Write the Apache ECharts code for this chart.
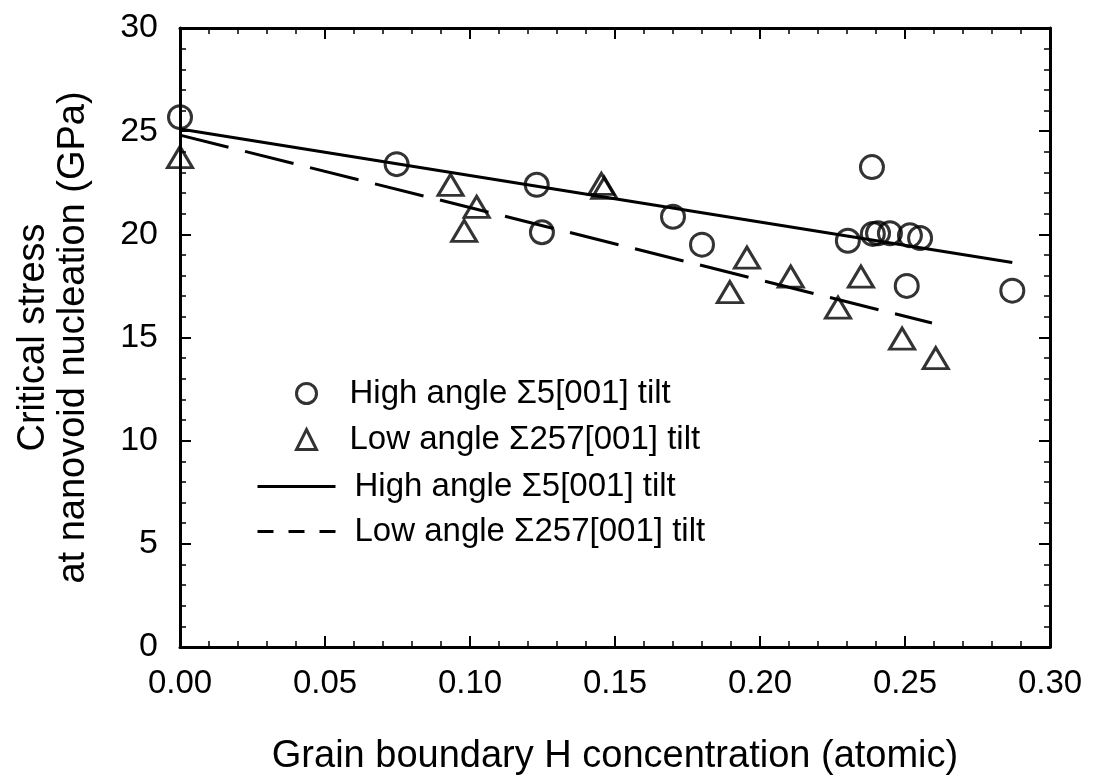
<!DOCTYPE html>
<html>
<head>
<meta charset="utf-8">
<script src="https://cdn.jsdelivr.net/npm/echarts@6/dist/echarts.min.js"></script>
<style>
html,body{margin:0;padding:0;background:#fff;}
#chart{width:1096px;height:781px;}
</style>
</head>
<body>
<div id="chart"></div>
<script>
// ---- Data ----
const highAngleX = [0.000, 0.0747, 0.123, 0.1248, 0.170, 0.180, 0.2303, 0.2386, 0.2389, 0.2407, 0.2448, 0.2517, 0.2552, 0.2506, 0.287];
const highAngleY = [25.68, 23.40, 22.40, 20.10, 20.85, 19.50, 19.69, 23.26, 20.02, 20.05, 20.05, 19.95, 19.82, 17.50, 17.27];
const lowAngleX = [0.000, 0.0933, 0.098, 0.1023, 0.1453, 0.1463, 0.1896, 0.1955, 0.2106, 0.2269, 0.2348, 0.249, 0.2606];
const lowAngleY = [23.74, 22.40, 20.17, 21.33, 22.45, 22.25, 17.20, 18.87, 17.95, 16.45, 17.95, 14.95, 14.00];
const highFitX = [0.000, 0.287];
const highFitY = [25.10, 18.63];
const lowFitX = [0.000, 0.2593];
const lowFitY = [24.81, 15.70];
const seriesNames = ['High angle \u03A35[001] tilt', 'Low angle \u03A3257[001] tilt'];
const xAxisTitle = 'Grain boundary H concentration (atomic)';
const yAxisTitle = 'Critical stress\nat nanovoid nucleation (GPa)';

const zip = (xs, ys) => xs.map((x, i) => [x, ys[i]]);

const FONT = '"Liberation Sans", Arial, sans-serif';
const chart = echarts.init(document.getElementById('chart'), null, {renderer: 'canvas'});

const baseTick = {show: true, inside: true, length: 11, lineStyle: {color: '#000', width: 2}};
const baseMinor = {show: true, splitNumber: 5, length: 6, lineStyle: {color: '#000', width: 1.5}};
const baseLine = {show: true, onZero: false, lineStyle: {color: '#000', width: 3}};

const option = {
  animation: false,
  backgroundColor: '#fff',
  grid: {left: 180, right: 46, top: 28, bottom: 131, containLabel: false},
  xAxis: [{
    type: 'value', min: 0, max: 0.3, interval: 0.05, position: 'bottom',
    axisLine: baseLine, axisTick: baseTick, minorTick: baseMinor,
    splitLine: {show: false},
    axisLabel: {color: '#000', fontSize: 33, fontFamily: FONT, margin: 20,
      formatter: v => v.toFixed(2)},
    name: xAxisTitle, nameLocation: 'middle', nameGap: 91,
    nameTextStyle: {color: '#000', fontSize: 38, fontFamily: FONT}
  }, {
    type: 'value', min: 0, max: 0.3, interval: 0.05, position: 'top',
    axisLine: baseLine, axisTick: baseTick, minorTick: baseMinor,
    splitLine: {show: false}, axisLabel: {show: false}
  }],
  yAxis: [{
    type: 'value', min: 0, max: 30, interval: 5, position: 'left',
    axisLine: baseLine, axisTick: baseTick, minorTick: baseMinor,
    splitLine: {show: false},
    axisLabel: {color: '#000', fontSize: 34, fontFamily: FONT, margin: 22},
    name: yAxisTitle, nameLocation: 'middle', nameGap: 86,
    nameTextStyle: {color: '#000', fontSize: 38, fontFamily: FONT, lineHeight: 40}
  }, {
    type: 'value', min: 0, max: 30, interval: 5, position: 'right',
    axisLine: baseLine, axisTick: baseTick, minorTick: baseMinor,
    splitLine: {show: false}, axisLabel: {show: false}
  }],
  legend: [{
    orient: 'vertical', left: 290, top: 372, itemWidth: 20, itemHeight: 20, itemGap: 13,
    textStyle: {color: '#000', fontSize: 33, fontFamily: FONT, padding: [0, 0, 0, 28]},
    data: [
      {name: 'hs', icon: 'circle', itemStyle: {color: 'rgba(0,0,0,0)', borderColor: '#000', borderWidth: 3}},
      {name: 'ls', icon: 'triangle', itemStyle: {color: 'rgba(0,0,0,0)', borderColor: '#000', borderWidth: 3}}
    ],
    formatter: n => n === 'hs' ? seriesNames[0] : seriesNames[1],
    selectedMode: false
  }, {
    orient: 'vertical', left: 251, top: 465, itemWidth: 78, itemHeight: 20, itemGap: 12,
    textStyle: {color: '#000', fontSize: 33, fontFamily: FONT, padding: [0, 0, 0, 14]},
    data: [
      {name: 'hl', itemStyle: {color: 'rgba(0,0,0,0)', borderWidth: 0, opacity: 0}, lineStyle: {color: '#000', width: 3, type: 'solid'}},
      {name: 'll', itemStyle: {color: 'rgba(0,0,0,0)', borderWidth: 0, opacity: 0}, lineStyle: {color: '#000', width: 3, type: [16, 15]}}
    ],
    formatter: n => n === 'hl' ? seriesNames[0] : seriesNames[1],
    selectedMode: false
  }],
  series: [{
    name: 'hl', type: 'line', data: zip(highFitX, highFitY), symbol: 'none',
    lineStyle: {color: '#000', width: 3, type: 'solid'}, itemStyle: {color: '#000'}, z: 2
  }, {
    name: 'll', type: 'line', data: zip(lowFitX, lowFitY), symbol: 'none',
    lineStyle: {color: '#000', width: 3, type: [50, 17]}, itemStyle: {color: '#000'}, z: 2
  }, {
    name: 'hs', type: 'scatter', data: zip(highAngleX, highAngleY), symbol: 'circle', symbolSize: 23,
    itemStyle: {color: 'rgba(0,0,0,0)', borderColor: '#000', borderWidth: 3}, z: 3
  }, {
    name: 'ls', type: 'scatter', data: zip(lowAngleX, lowAngleY), symbol: 'triangle', symbolSize: [25, 21],
    itemStyle: {color: 'rgba(0,0,0,0)', borderColor: '#000', borderWidth: 3}, z: 3
  }]
};
chart.setOption(option);
</script>
</body>
</html>
